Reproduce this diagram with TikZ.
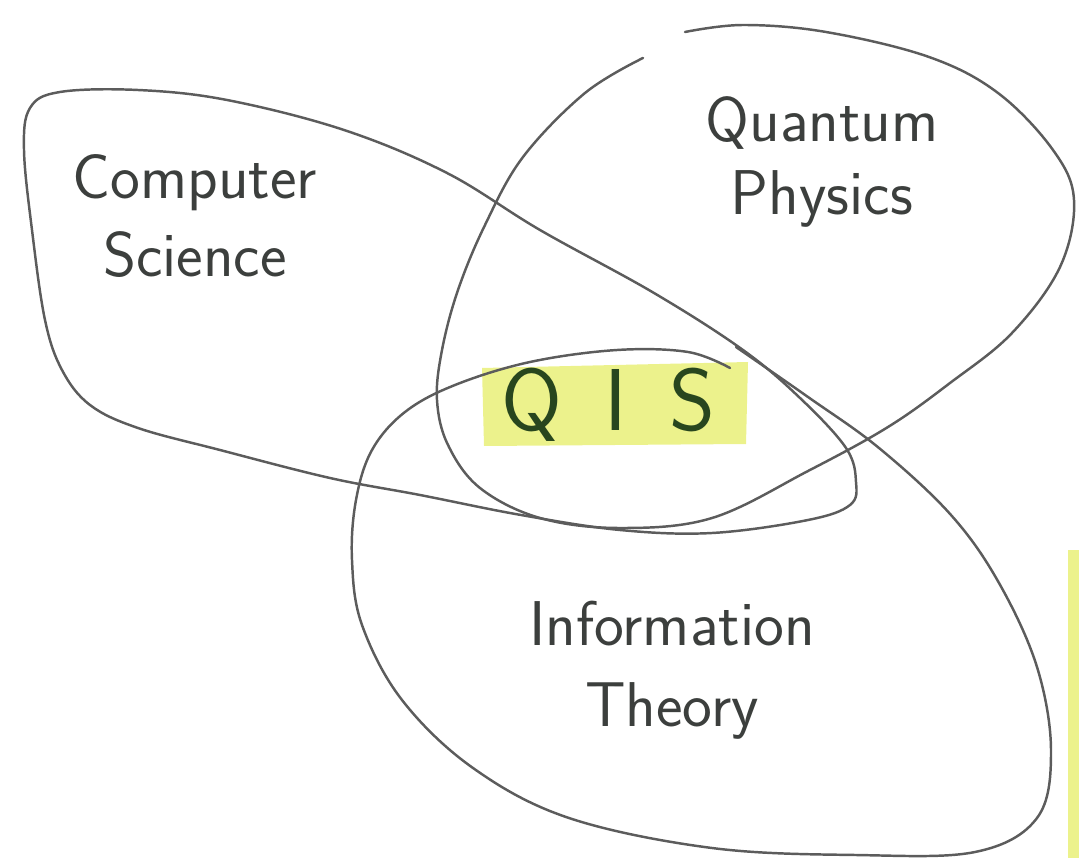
\documentclass[tikz,border=0pt]{standalone}
\usepackage{xcolor}
\usepackage{tikz}
\usetikzlibrary{positioning,calc}

\definecolor{pencil}{RGB}{92,92,92}
\definecolor{inkgray}{RGB}{60,63,61}
\definecolor{inkgreen}{RGB}{40,70,30}
\definecolor{marker}{RGB}{236,242,140}

\tikzset{
    loop/.style={draw=pencil, line width=0.7pt, line join=round, line cap=round},
    label/.style={text=inkgray, align=center, font=\sffamily\fontsize{18}{21}\selectfont},
}

\begin{document}
\begin{tikzpicture}[x=0.01cm,y=-0.01cm]
    \useasboundingbox (0,0) rectangle (1079,858);

    % Highlighter
    \fill[marker] (482,368) -- (748,362) -- (746,444) -- (484,446) -- cycle;
    \fill[marker] (1068,550) rectangle (1079,858);

    % Computer Science
    \draw[loop] plot[smooth cycle, tension=0.6] coordinates {
        (24,150) (30,108) (60,92) (138,90) (227,100) (344,130) (447,173)
        (540,230) (654,293) (743,350) (800,398) (846,448) (856,482)
        (850,505) (808,520) (712,533) (620,530) (521,515) (420,495)
        (330,478) (220,450) (138,428) (90,405) (62,370) (45,320) (32,230)};

    % Quantum Physics
    \draw[loop] plot[smooth, tension=0.6] coordinates {
        (685,32) (743,25) (826,32) (929,57) (998,93) (1053,150) (1074,200)
        (1060,267) (1012,333) (950,383) (888,427) (808,471) (712,518)
        (620,528) (540,518) (480,488) (448,445) (437,400) (442,350)
        (458,290) (485,225) (523,157) (585,93) (643,58)};

    % Information Theory
    \draw[loop] plot[smooth, tension=0.6] coordinates {
        (736,347) (808,397) (879,448) (951,515) (999,583) (1037,667)
        (1051,751) (1037,818) (975,852) (856,855) (712,848) (569,818)
        (473,768) (402,700) (362,625) (352,560) (356,500) (372,450)
        (405,412) (455,385) (530,362) (617,350) (688,352) (730,368)};

    % Labels
    \node[label] (cs) at (195,216) {Computer\\[1pt]Science};
    \node[label] (qp) at (822,162) {Quantum\\[0pt]Physics};
    \node[label] (it) at (672,670) {Information\\[2pt]Theory};
    \node[text=inkgreen, font=\sffamily\fontsize{25}{27}\selectfont] (qis) at (608,405)
        {Q\hspace{12pt}I\hspace{12pt}S};
\end{tikzpicture}
\end{document}
